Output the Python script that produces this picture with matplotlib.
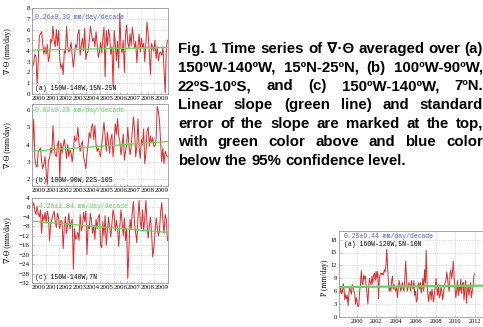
import numpy as np
import matplotlib
matplotlib.use("Agg")
import matplotlib.pyplot as plt

W, H = 483, 327

# monthly divergence series, 2000-2009 (mm/day)
div_a = [2.5, 2.9, 3.7, 3.5, 0.9, 3.0, 5.4, 5.6, 5.8, 4.6, 3.7, 4.4,
         3.7, 4.6, 3.0, 3.5, 5.1, 4.8, 6.3, 5.0, 4.4, 6.0, 4.5, 5.9,
         3.3, 2.4, 2.8, 1.8, 4.0, 3.8, 6.3, 4.4, 3.9, 4.2, 4.8, 3.5,
         2.5, 3.5, 4.6, 4.3, 5.6, 6.0, 3.6, 4.5, 5.2, 4.0, 6.1, 3.2,
         3.8, 4.0, 4.9, 6.3, 5.6, 4.9, 5.2, 4.4, 5.8, 4.6, 3.4, 3.9,
         4.8, 3.8, 5.2, 6.2, 1.6, 5.9, 4.5, 6.0, 5.4, 3.7, 4.4, 0.7,
         5.9, 4.7, 3.1, 4.9, 2.4, 7.5, 4.3, 3.8, 5.0, 2.0, 5.5, 6.4,
         4.8, 4.3, 5.6, 4.5, 6.2, 5.3, 4.2, 4.9, 2.9, 4.4, 5.6, 3.9,
         5.2, 4.3, 4.7, 3.0, 4.8, 6.7, 5.5, 3.9, 1.8, 4.7, 4.3, 4.0,
         5.0, 3.3, 4.4, 3.1, 3.8, 3.9, 3.6, 4.4, 2.2, 0.1, 4.2, 5.0]
div_b = [3.8, 5.45, 3.2, 2.8, 2.7, 3.6, 3.7, 3.8, 3.0, 2.6, 2.9, 3.3,
         2.4, 1.7, 3.1, 3.2, 3.8, 3.5, 5.1, 3.9, 3.4, 3.3, 4.0, 4.2,
         2.1, 4.1, 3.5, 3.9, 4.3, 3.8, 3.2, 4.0, 3.3, 3.7, 3.5, 3.0,
         3.6, 4.5, 4.2, 4.3, 5.0, 4.1, 3.6, 4.0, 4.2, 3.3, 3.0, 2.6,
         3.4, 4.0, 4.7, 4.4, 5.0, 5.2, 4.3, 5.1, 4.0, 3.6, 3.8, 3.5,
         3.3, 4.0, 4.6, 5.3, 4.5, 3.6, 4.7, 4.1, 3.5, 4.3, 4.6, 3.3,
         4.0, 5.2, 4.6, 5.5, 4.5, 4.2, 3.4, 3.9, 4.6, 3.1, 3.6, 4.0,
         5.0, 4.0, 3.4, 3.9, 4.8, 5.6, 4.8, 3.3, 3.9, 5.5, 3.8, 3.2,
         4.3, 4.0, 4.9, 2.9, 3.5, 4.8, 5.0, 3.9, 4.5, 4.1, 4.4, 3.9,
         3.9, 4.3, 6.2, 5.9, 5.4, 4.1, 3.0, 3.8, 2.9, 3.6, 3.4, 3.3]
div_c = [0.5, 2.0, -1.5, -3.0, 0.5, -2.5, -4.0, -1.0, -11.0, -3.0, -5.5, -2.0,
         -6.5, -1.5, -4.0, -14.0, -7.0, -5.0, -3.0, -1.5, -6.0, -8.5, -2.5, -4.5,
         -9.0, -5.5, -6.0, -17.5, -8.0, -4.0, -11.0, -7.0, -2.5, -9.0, -6.5, -5.0,
         -26.0, -9.0, -13.5, -12.5, -10.5, -14.0, -3.0, -10.0, -8.0, -2.0, -6.0, -1.5,
         -20.0, -7.5, -9.0, -2.5, -6.0, -11.0, -7.5, -13.5, -5.0, -9.0, -4.0, -3.0,
         -16.0, -17.0, -6.0, -12.0, -3.5, -16.0, -10.0, -4.0, -8.5, -12.5, -7.0, -1.0,
         -3.5, -10.0, -5.5, -9.0, -16.5, -8.0, -1.0, -6.0, -12.0, -4.5, -14.0, -9.0,
         -30.0, -18.0, -5.0, -9.0, -2.0, 2.5, -7.0, -11.0, -15.0, -4.0, 3.0, -6.0,
         -9.0, -1.0, -10.0, -4.5, 3.0, -7.0, -13.0, -8.0, -4.0, -10.5, -21.0, -17.0,
         -11.0, -4.5, -8.0, -12.0, -9.5, -2.0, 2.0, -5.5, -11.0, -3.0, -5.0, -14.0]

# precipitation, Apr 1998 - Dec 2011 (mm/day)
precip = [5.5, 6.8, 5.4, 5.8, 7.8, 6.5, 4.0, 5.2, 4.2,
          5.0, 2.6, 5.5, 7.0, 6.0, 5.3, 7.5, 7.2, 6.0, 5.5, 3.0, 4.5,
          3.5, 2.4, 2.6, 6.0, 7.5, 10.8, 8.0, 7.5, 9.8, 8.8, 9.5, 7.0,
          5.5, 3.0, 7.0, 9.0, 8.0, 7.5, 9.5, 7.8, 9.7, 10.2, 8.5, 10.6,
          9.0, 10.6, 4.2, 9.0, 10.0, 10.2, 9.8, 10.2, 9.8, 11.0, 10.5, 12.0,
          15.7, 12.0, 8.0, 6.0, 7.0, 6.0, 8.5, 9.5, 6.5, 7.5, 6.5, 6.0,
          7.0, 4.5, 6.5, 8.5, 7.5, 6.0, 7.0, 8.0, 6.5, 6.0, 9.0, 13.0,
          9.0, 6.0, 7.0, 8.0, 7.5, 6.0, 8.5, 7.0, 6.5, 8.5, 5.0, 6.0,
          3.5, 4.0, 7.5, 8.0, 6.5, 8.0, 5.5, 7.0, 9.0, 6.0, 11.0, 8.0,
          15.5, 8.0, 5.0, 3.5, 5.5, 6.0, 4.0, 6.5, 5.0, 3.5, 5.5, 7.0,
          9.0, 6.5, 5.0, 7.5, 4.5, 5.0, 7.0, 6.0, 4.0, 5.5, 7.0, 8.0,
          8.5, 10.5, 9.0, 7.0, 6.0, 10.0, 11.0, 9.0, 10.5, 13.0, 9.0, 7.0,
          4.5, 6.0, 8.5, 5.0, 7.0, 6.0, 8.8, 5.5, 7.5, 8.0, 4.0, 6.5,
          8.5, 3.2, 6.0, 7.5, 5.0, 6.5, 8.0, 4.5, 6.0, 7.0, 9.5, 10.0]

# linear trend end values
trend_a = [4.08, 4.33]
trend_b = [3.62, 4.18]
trend_c = [-5.8, -10.6]
trend_p = [6.95, 7.3]

slope_a = "0.26±0.39 mm/day/decade"
slope_b = "0.62±0.23 mm/day/decade"
slope_c = "-4.26±1.84 mm/day/decade"
slope_p = "0.25±0.44 mm/day/decade"
region_a = "(a) 150W-140W,15N-25N"
region_b = "(b) 100W-90W,22S-10S"
region_c = "(c) 150W-140W,7N"
region_p = "(a) 160W-120W,5N-10N"

years = list(range(2000, 2010))
p_years = list(range(2000, 2013, 2))

caption = ["Fig. 1 Time series of ∇·Θ averaged over (a)",
           "150ºW-140ºW, 15ºN-25ºN, (b) 100ºW-90ºW,",
           "22ºS-10ºS, and (c) 150ºW-140ºW, 7ºN.",
           "Linear slope (green line) and standard",
           "error of the slope are marked at the top,",
           "with green color above and blue color",
           "below the 95% confidence level."]

RED = "#dd2a2a"
GREEN = "#55dd55"
BLUE = "#4a62dd"
serif = ["Liberation Serif", "DejaVu Serif"]
mono = ["Liberation Mono", "DejaVu Sans Mono"]

fig = plt.figure(figsize=(W / 100, H / 100), dpi=100)


def box(l, t, r, b):
    return [l / W, 1 - b / H, (r - l) / W, (b - t) / H]


def style(ax):
    for s in ax.spines.values():
        s.set_color("#999999")
        s.set_linewidth(0.6)
    ax.grid(True, which="major", ls=":", color="#bbbbbb", lw=0.5)
    ax.tick_params(which="both", direction="in", length=1.5, width=0.4,
                   color="#999999", labelsize=5, pad=1.5)
    for lab in ax.get_xticklabels(which="both") + ax.get_yticklabels():
        lab.set_family(serif)


t = 2000 + (np.arange(120) + 0.5) / 12
panels = [
    (box(32, 8, 168, 94), div_a, trend_a, (0, 8), np.arange(0, 9, 1), slope_a, BLUE, region_a, 0.895),
    (box(32, 104, 168, 186), div_b, trend_b, (1.6, 6.35), np.arange(2, 7, 1), slope_b, GREEN, region_b, 0.915),
    (box(32, 198, 168, 283), div_c, trend_c, (-32, 4), np.arange(-32, 5, 4), slope_c, GREEN, region_c, 0.895),
]
for rect, data, trend, ylim, yt, slope, scol, region, sy in panels:
    ax = fig.add_axes(rect)
    ax.plot(t, data, color=RED, lw=0.7)
    ax.plot([2000, 2010], trend, color=GREEN, lw=0.9)
    ax.set_xlim(2000, 2010)
    ax.set_ylim(*ylim)
    ax.set_yticks(yt)
    ax.set_xticks(range(2000, 2011))
    ax.set_xticklabels([])
    ax.set_xticks(np.array(years) + 0.5, labels=[str(y) for y in years], minor=True)
    ax.tick_params(axis="x", which="minor", length=0)
    style(ax)
    ax.set_ylabel("∇·Θ (mm/day)", family=serif, fontsize=5.5)
    ax.yaxis.set_label_coords(-0.15, 0.5)
    ax.text(0.025, sy, slope, transform=ax.transAxes, color=scol,
            family=mono, fontsize=4.7, va="center")
    ax.text(0.02, 0.065, region, transform=ax.transAxes, color="black",
            family=mono, fontsize=4.7, va="center")

# precipitation panel
tp = 1998.25 + (np.arange(len(precip)) + 0.5) / 12
axp = fig.add_axes(box(339, 231, 483, 317))
axp.plot(tp, precip, color=RED, lw=0.7)
axp.plot([1998.2, 2012.8], trend_p, color=GREEN, lw=1.6)
axp.set_xlim(1998.2, 2012.8)
axp.set_ylim(0, 20)
axp.set_yticks(np.arange(0, 19, 3))
axp.set_xticks(p_years)
style(axp)
axp.tick_params(labelsize=4.6)
axp.set_ylabel("P (mm/day)", family=serif, fontsize=5.5)
axp.yaxis.set_label_coords(-0.07, 0.45)
axp.text(0.035, 0.94, slope_p, transform=axp.transAxes, color=BLUE,
         family=mono, fontsize=4.7, va="center")
axp.text(0.035, 0.84, region_p, transform=axp.transAxes, color="black",
         family=mono, fontsize=4.7, va="center")

# justified caption
cap_font = ["Liberation Sans", "DejaVu Sans"]
r = fig.canvas.get_renderer()
x0, x1 = 178 / W, 483 / W
sp = fig.text(0, 0, "a a", fontsize=10.8, fontweight="bold", family=cap_font)
aa = fig.text(0, 0, "aa", fontsize=10.8, fontweight="bold", family=cap_font)
space = (sp.get_window_extent(r).width - aa.get_window_extent(r).width) / W
sp.remove()
aa.remove()
for i, line in enumerate(caption):
    y = 1 - (52.8 + i * 18.7) / H
    words = line.split(" ")
    ts = [fig.text(0, y, w, fontsize=10.8, fontweight="bold", family=cap_font,
                   va="baseline") for w in words]
    ws = [tx.get_window_extent(r).width / W for tx in ts]
    if i == len(caption) - 1:
        gap = space
    else:
        gap = (x1 - x0 - sum(ws)) / (len(words) - 1)
    x = x0
    for tx, w in zip(ts, ws):
        tx.set_x(x)
        x += w + gap

fig.savefig("out.png", dpi=100)
